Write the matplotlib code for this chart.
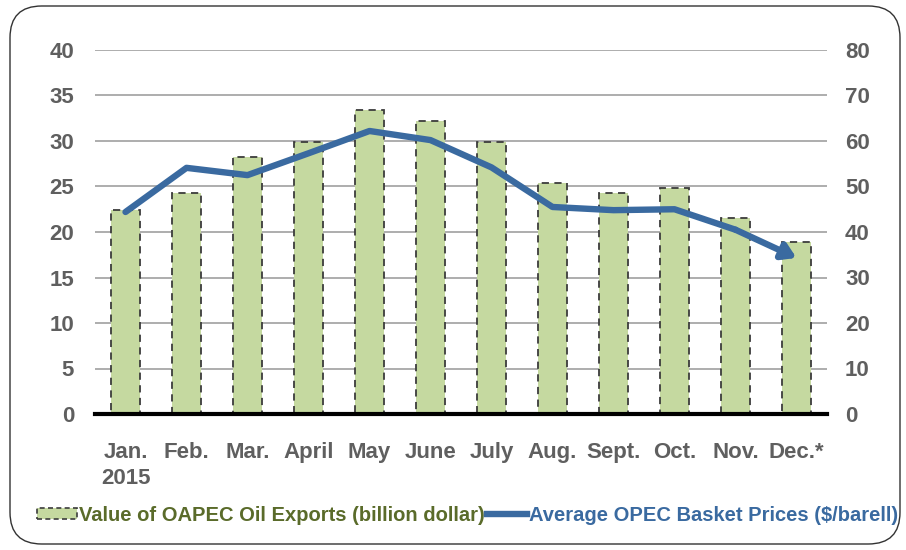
import matplotlib
matplotlib.use("Agg")
import matplotlib.pyplot as plt
from matplotlib.patches import FancyBboxPatch, Patch
from matplotlib.lines import Line2D

plt.rcParams["font.family"] = ["Liberation Sans", "DejaVu Sans"]
plt.rcParams["font.weight"] = "bold"

months = ["Jan.\n2015", "Feb.", "Mar.", "April", "May", "June", "July",
          "Aug.", "Sept.", "Oct.", "Nov.", "Dec.*"]
exports = [22.4, 24.3, 28.2, 29.9, 33.4, 32.2, 29.9, 25.4, 24.3, 24.8, 21.5, 18.9]
basket = [44.4, 54.1, 52.5, 57.3, 62.2, 60.2, 54.2, 45.5, 44.8, 45.0, 40.5, 34.3]
left_ticks = [0, 5, 10, 15, 20, 25, 30, 35, 40]
right_ticks = [0, 10, 20, 30, 40, 50, 60, 70, 80]

BAR_FILL = "#c5d9a0"
LINE_COL = "#3a6aa0"
TXT = "#5f5f5f"

fig = plt.figure(figsize=(9.06, 5.5), dpi=100)
fig.patch.set_facecolor("white")

# rounded outer frame
frame = FancyBboxPatch((10 / 906, 6 / 550), 890 / 906, 538 / 550,
                       boxstyle="round,pad=0,rounding_size=0.035",
                       transform=fig.transFigure, fc="none", ec="#333333",
                       lw=1.0, mutation_aspect=906 / 550, zorder=-1)
fig.patches.append(frame)

ax = fig.add_axes([95 / 906, 136 / 550, 732 / 906, 364 / 550])
ax.set_facecolor("none")
x = list(range(len(months)))
ax.bar(x, exports, width=0.48, color=BAR_FILL, edgecolor="#3c3c3c",
       linestyle=(0, (4, 3)), linewidth=1.3, zorder=2)
ax.set_xlim(-0.5, len(months) - 0.5)
ax.set_ylim(0, 40)
ax.set_yticks(left_ticks)
ax.yaxis.grid(True, color="#a0a0a0", linewidth=1.2, zorder=0)
ax.set_axisbelow(True)
for s in ["top", "right", "left"]:
    ax.spines[s].set_visible(False)
ax.spines["bottom"].set_linewidth(3)
ax.spines["bottom"].set_color("black")
ax.spines["bottom"].set_zorder(5)
ax.set_xticks(x)
ax.set_xticklabels(months, fontsize=16, color=TXT, linespacing=1.3)
ax.tick_params(axis="x", length=0, pad=20)
ax.tick_params(axis="y", length=0, pad=15, labelsize=16, labelcolor=TXT)

ax2 = ax.twinx()
ax2.set_ylim(0, 80)
ax2.set_yticks(right_ticks)
for s in ax2.spines.values():
    s.set_visible(False)
ax2.tick_params(axis="y", length=0, pad=13, labelsize=16, labelcolor=TXT)
ax2.plot(x[:-1], basket[:-1], color=LINE_COL, linewidth=4.6,
         solid_joinstyle="round", solid_capstyle="round", zorder=4)
ax2.annotate("", xy=(x[-1], basket[-1]), xytext=(x[-2], basket[-2]),
             arrowprops=dict(arrowstyle="-|>,head_length=0.8,head_width=0.5",
                             color=LINE_COL, lw=4.6, shrinkA=0, shrinkB=0),
             zorder=4)

handles = [Patch(facecolor=BAR_FILL, edgecolor="#3c3c3c", linestyle=(0, (3, 2)),
                 linewidth=1.2),
           Line2D([0], [0], color=LINE_COL, linewidth=4.6)]
labels = ["Value of OAPEC Oil Exports (billion dollar)",
          "Average OPEC Basket Prices ($/barell)"]
leg = fig.legend(handles, labels, loc="center", bbox_to_anchor=(0.516, 0.063),
                 ncol=2, frameon=False, fontsize=14.5, handlelength=2.0,
                 handleheight=0.5, handletextpad=0.1, columnspacing=0.1,
                 borderaxespad=0)
leg.get_texts()[0].set_color("#5a6b2a")
leg.get_texts()[1].set_color(LINE_COL)

fig.savefig("out.png", dpi=100)
